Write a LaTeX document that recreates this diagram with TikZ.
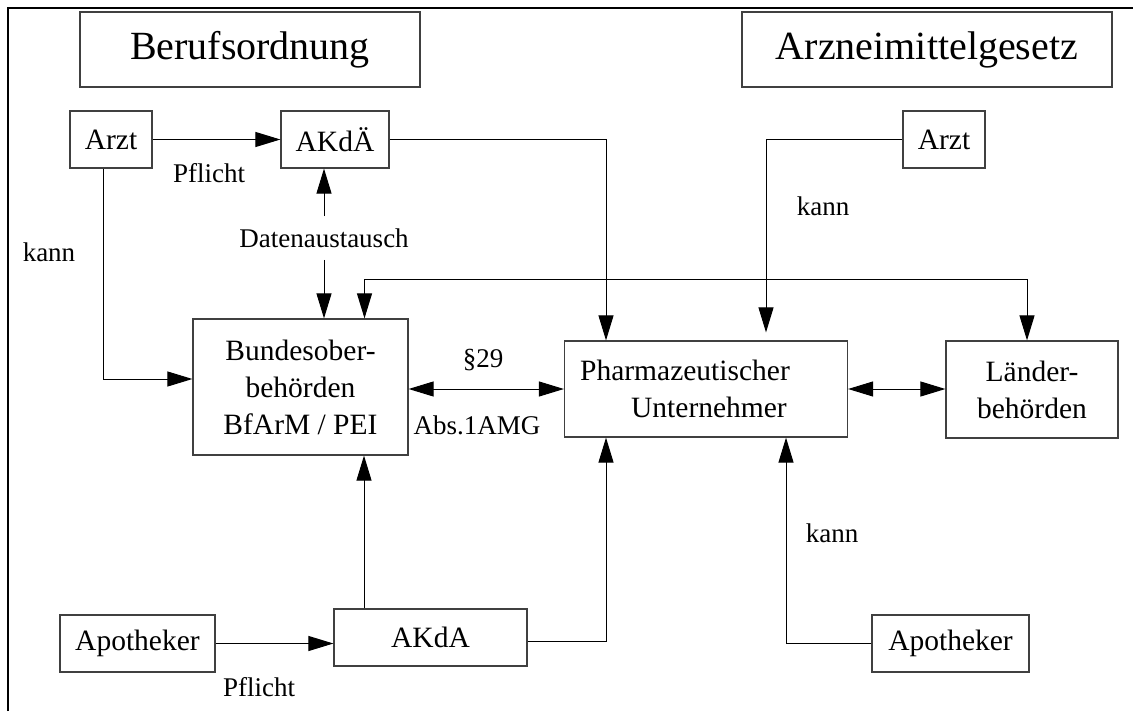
\documentclass[tikz,border=0pt]{standalone}
\usepackage{fontspec}
\setmainfont{Liberation Serif}
\usetikzlibrary{arrows.meta}
\begin{document}
\begin{tikzpicture}[x=0.5pt,y=-0.5pt,line width=0.5pt,
	>={Triangle[length=12.5pt,width=7.5pt]},
	box/.style={draw=black!75,line width=0.6pt,inner sep=0pt,align=center,
		font=\fontsize{14.75pt}{18.5pt}\selectfont},
	head/.style={box,minimum height=37.5pt,font=\fontsize{20pt}{24pt}\selectfont},
	lbl/.style={inner sep=0pt,font=\fontsize{13.5pt}{16pt}\selectfont}]
	\useasboundingbox (0,0) rectangle (1133,711);
	\draw[line width=0.75pt] (8,711) -- (8,8) -- (1133,8);
		\node[head,minimum width=170pt] (berufs) at (250,49.5) {Berufsordnung};
		\node[head,minimum width=185pt] (amg) at (927,49.5) {Arzneimittelgesetz};
		\node[box,minimum width=41pt,minimum height=28.5pt] (arztL) at (111,139.5) {Arzt};
		\node[box,minimum width=54pt,minimum height=28.5pt] (akdae) at (335,139.5) {AKdÄ};
		\node[box,minimum width=41pt,minimum height=28.5pt] (arztR) at (944,139.5) {Arzt};
		\node[box,minimum width=107.5pt,minimum height=68pt] (bob) at (300.5,387) {Bundesober-\\behörden\\BfArM / PEI};
		\node[box,minimum width=141.5pt,minimum height=48pt,align=left] (pu) at (706,389) {Pharmazeutischer\hspace*{21pt}\\\hspace*{25.5pt}Unternehmer};
		\node[box,minimum width=86pt,minimum height=48.5pt] (laender) at (1032,389.5) {Länder-\\behörden};
		\node[box,minimum width=96.5pt,minimum height=28.5pt] (akda) at (430.5,637.5) {AKdA};
		\node[box,minimum width=77.5pt,minimum height=28.5pt] (apoL) at (137.5,643.5) {Apotheker};
		\node[box,minimum width=78.5pt,minimum height=28.5pt] (apoR) at (950.5,643.5) {Apotheker};
		\node[lbl,inner sep=6pt] (dat) at (324,238) {Datenaustausch};
		\node[lbl] (pflichtA) at (209,173) {Pflicht};
		\node[lbl] (pflichtB) at (259,687) {Pflicht};
		\node[lbl] (kannA) at (49,252) {kann};
		\node[lbl] (kannB) at (823,206) {kann};
		\node[lbl] (kannC) at (832,533) {kann};
		\node[lbl] (par) at (483,360) {§29};
		\node[lbl] (abs) at (477,425) {Abs.1AMG};
		\draw[->] (arztL) -- (akdae);
		\draw[->] ([xshift=-4pt]arztL.south) |- ([yshift=4pt]bob.west);
		\draw[->] (akdae.east) -| ([xshift=-50pt]pu.north);
		\draw[->,shorten >=4pt] (arztR.west) -| ([xshift=30pt]pu.north);
		\draw[->] (dat.north) -- (dat.north |- akdae.south);
		\draw[->] (dat.south) -- (dat.south |- bob.north);
		\draw[<->] ([xshift=32pt]bob.north) -- ++(0,-39) -| ([xshift=-2.5pt]laender.north);
		\draw[<->] (bob.east |- pu.west) -- (pu.west);
		\draw[<->] (pu.east) -- (pu.east -| laender.west);
		\draw[->] ([xshift=-33.25pt]akda.north) -- ([xshift=-33.25pt]akda.north |- bob.south);
		\draw[->] ([yshift=-1.75pt]akda.east) -| ([xshift=-50pt]pu.south);
		\draw[->] (apoL.east) -- (apoL.east -| akda.west);
		\draw[->] (apoR.west) -| ([xshift=40pt]pu.south);
\end{tikzpicture}
\end{document}
